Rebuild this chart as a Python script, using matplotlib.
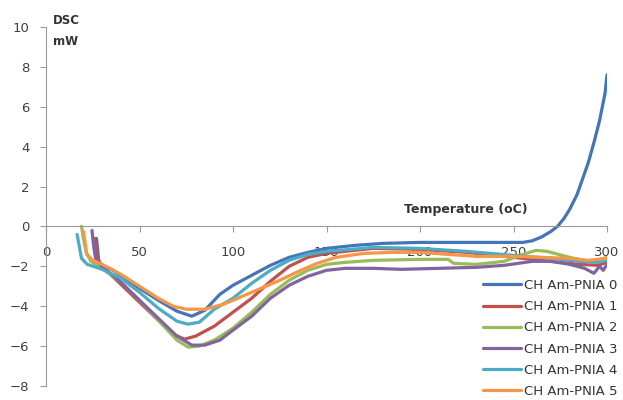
"""
DSC curves of the CH Am-PNIA samples
"""

import matplotlib.pyplot as plt

# temperature (oC) and heat flow (mW)
t0 = [27, 28.3, 30, 35, 40, 50, 60, 70, 78, 85, 93, 100, 110, 120, 130, 140,
      150, 165, 180, 200, 220, 240, 255, 260, 265, 270, 273.5, 277, 280, 284,
      287, 290, 293, 296, 299, 300]
v0 = [-0.6, -1.8, -1.95, -2.15, -2.45, -3.1, -3.7, -4.25, -4.5, -4.2, -3.4,
      -2.95, -2.45, -1.95, -1.55, -1.3, -1.1, -0.95, -0.85, -0.8, -0.8, -0.8,
      -0.8, -0.72, -0.53, -0.25, 0.0, 0.4, 0.85, 1.6, 2.4, 3.2, 4.2, 5.3, 6.7,
      7.6]

t1 = [26, 27.5, 30, 35, 40, 50, 60, 68, 74, 80, 90, 100, 110, 120, 130, 140,
      150, 175, 200, 225, 250, 270, 285, 295, 300]
v1 = [-0.6, -1.6, -2.0, -2.45, -2.9, -3.8, -4.7, -5.4, -5.65, -5.5, -5.0,
      -4.3, -3.6, -2.75, -2.0, -1.55, -1.35, -1.1, -1.15, -1.3, -1.55, -1.75,
      -1.9, -1.95, -1.8]

t2 = [19, 20, 21.5, 24, 30, 40, 50, 60, 70, 76, 82, 90, 100, 110, 120, 130,
      140, 150, 160, 175, 200, 215, 218, 230, 245, 255, 262, 268, 280, 290,
      295, 300]
v2 = [0.0, -0.6, -1.3, -1.75, -2.1, -2.8, -3.7, -4.7, -5.7, -6.05, -6.0,
      -5.7, -5.1, -4.3, -3.4, -2.7, -2.2, -1.9, -1.8, -1.7, -1.65, -1.65, -1.85,
      -1.9, -1.75, -1.4, -1.2, -1.25, -1.55, -1.75, -1.7, -1.55]

t3 = [24.6, 25.5, 26.5, 30, 40, 50, 60, 70, 78, 85, 93, 100, 110, 120, 130,
      140, 150, 160, 175, 190, 210, 230, 245, 260, 270, 280, 288, 293, 296,
      298, 300]
v3 = [-0.2, -1.0, -1.6, -2.0, -2.8, -3.7, -4.6, -5.5, -5.95, -5.95, -5.7,
      -5.2, -4.5, -3.6, -2.95, -2.5, -2.2, -2.1, -2.1, -2.15, -2.1, -2.05,
      -1.95, -1.75, -1.75, -1.9, -2.1, -2.35, -2.0, -2.2, -1.9]

t4 = [16.6, 19, 22, 30, 40, 50, 60, 70, 76, 82, 90, 100, 110, 120, 130, 140,
      150, 175, 200, 225, 250, 270, 285, 295, 300]
v4 = [-0.4, -1.6, -1.9, -2.15, -2.6, -3.3, -4.1, -4.75, -4.9, -4.8, -4.15,
      -3.6, -2.85, -2.2, -1.7, -1.4, -1.25, -1.05, -1.1, -1.25, -1.45, -1.6,
      -1.75, -1.8, -1.7]

t5 = [20, 21.8, 25, 30, 40, 50, 60, 68, 75, 85, 95, 105, 115, 125, 135, 145,
      155, 170, 185, 200, 215, 230, 250, 265, 280, 290, 300]
v5 = [-0.25, -1.4, -1.7, -1.9, -2.4, -3.0, -3.6, -4.0, -4.15, -4.15, -3.9,
      -3.5, -3.1, -2.7, -2.25, -1.85, -1.55, -1.35, -1.3, -1.3, -1.4, -1.5,
      -1.5, -1.55, -1.6, -1.7, -1.6]

labels = ['CH Am-PNIA %d' % i for i in range(6)]
colors = ['#4475b8', '#c0504d', '#9bbb59', '#8064a2', '#4bacc6', '#f79646']

if __name__ == '__main__':
    fig = plt.figure(figsize=(6.23, 4.0), dpi=100)
    ax = fig.add_axes([46 / 623, 1 - 386 / 400, 561 / 623, 359 / 400])

    series = [(t0, v0), (t1, v1), (t2, v2), (t3, v3), (t4, v4), (t5, v5)]
    for (t, v), name, col in zip(series, labels, colors):
        ax.plot(t, v, color=col, lw=2.3, label=name, solid_capstyle='round',
                solid_joinstyle='round')

    ax.set_xlim(0, 300)
    ax.set_ylim(-8, 10)
    ax.set_xticks(range(0, 301, 50))
    ax.set_yticks(range(-8, 11, 2))

    # x axis crosses at zero, like in the spreadsheet
    ax.spines['bottom'].set_position(('data', 0))
    for side in ['top', 'right']:
        ax.spines[side].set_visible(False)
    for side in ['left', 'bottom']:
        ax.spines[side].set_color('#9a9a9a')
    ax.tick_params(axis='both', colors='#9a9a9a', labelcolor='#404040',
                   length=4, labelsize=9.5)
    ax.tick_params(axis='x', pad=10)
    ax.tick_params(axis='y', pad=8)

    fig.text(53 / 623, 1 - 14 / 400, 'DSC\nmW', fontsize=8.5,
             fontweight='bold', va='top', ha='left', color='#333333',
             linespacing=1.8)
    fig.text(466 / 623, 1 - 209 / 400, 'Temperature (oC)', fontsize=9,
             fontweight='bold', va='center', ha='center', color='#333333')

    ax.legend(loc='upper left', bbox_to_anchor=(483 / 623, 1 - 279 / 400),
              bbox_transform=fig.transFigure, frameon=False, fontsize=9.5,
              handlelength=2.9, handletextpad=0.2, labelspacing=0.62,
              borderpad=0, borderaxespad=0, labelcolor='#333333')

    fig.savefig('out.png', dpi=100)
